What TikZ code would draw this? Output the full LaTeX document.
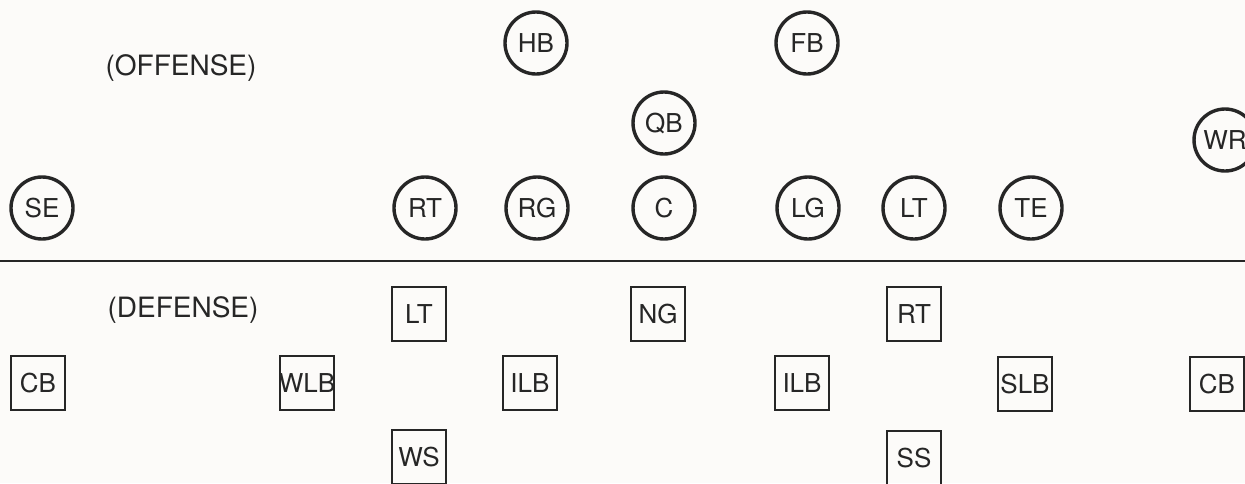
\documentclass[tikz,border=0pt]{standalone}
\usepackage{fontspec}
\setmainfont{TeX Gyre Heros}
\usepackage{tikz}
\usetikzlibrary{positioning}
\definecolor{fbink}{RGB}{38,38,38}
\definecolor{fbpaper}{RGB}{252,251,249}
\tikzset{
  offman/.style={circle, draw=fbink, line width=1.7pt, minimum size=31pt,
    inner sep=0pt, font=\fontsize{13}{13}\selectfont, text=fbink},
  defman/.style={rectangle, draw=fbink, line width=1.4pt, minimum size=27pt,
    inner sep=0pt, font=\fontsize{13}{13}\selectfont, text=fbink},
  sidelabel/.style={font=\fontsize{14}{14}\selectfont, text=fbink},
  scrimmage/.style={draw=fbink, line width=1.1pt}
}
\begin{document}
\begin{tikzpicture}[x=0.5pt,y=-0.5pt]
        \fill[fbpaper] (0,0) rectangle (1245,483);
        \useasboundingbox (0,0) rectangle (1245,483);
        % offense
        \node[sidelabel] (offlabel) at (181,68) {(OFFENSE)};
        \node[offman] (hb) at (536,43) {HB};
        \node[offman] (fb) at (807,43) {FB};
        \node[offman] (qb) at (664,123) {QB};
        \node[offman] (wr) at (1225,140) {WR};
        \node[offman] (se) at (42,208) {SE};
        \node[offman] (ort) at (425,208) {RT};
        \node[offman] (org) at (537,208) {RG};
        \node[offman] (oc) at (664,208) {C};
        \node[offman] (olg) at (808,208) {LG};
        \node[offman] (olt) at (914,208) {LT};
        \node[offman] (te) at (1031,208) {TE};
        % line of scrimmage
        \coordinate (losw) at (0,261);
        \coordinate (lose) at (1245,261);
        \draw[scrimmage] (losw) -- (lose);
        % defense
        \node[sidelabel] (deflabel) at (183,310) {(DEFENSE)};
        \node[defman] (dlt) at (419,314) {LT};
        \node[defman] (ng) at (658,314) {NG};
        \node[defman] (drt) at (914,314) {RT};
        \node[defman] (lcb) at (38,383) {CB};
        \node[defman] (wlb) at (307,383) {\makebox[24pt]{WLB}};
        \node[defman] (lilb) at (530,383) {ILB};
        \node[defman] (rilb) at (802,383) {ILB};
        \node[defman] (slb) at (1025,384) {SLB};
        \node[defman] (rcb) at (1217,384) {CB};
        \node[defman] (ws) at (419,457) {WS};
        \node[defman] (ss) at (914,458) {SS};
      \end{tikzpicture}
\end{document}
